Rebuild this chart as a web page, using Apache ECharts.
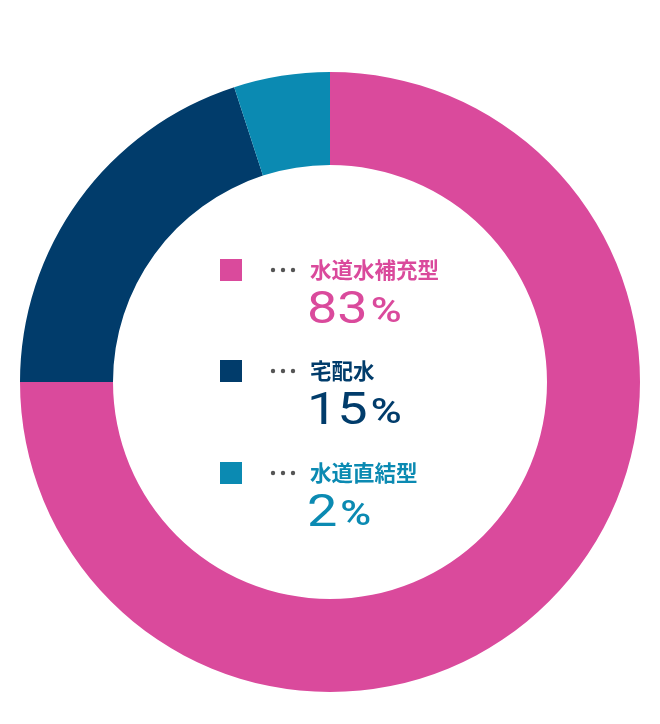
<!DOCTYPE html>
<html>
<head>
<meta charset="utf-8">
<script src="https://cdn.jsdelivr.net/npm/echarts@6/dist/echarts.min.js"></script>
<style>
html,body{margin:0;padding:0;background:#fff;}
#chart{width:660px;height:724px;}
</style>
</head>
<body>
<div id="chart"></div>
<script>
// Data (slice sizes as drawn in the picture; share labels as printed)
const categories = ['水道水補充型', '宅配水', '水道直結型'];
const sliceValues = [75, 20, 5];
const shareLabels = ['83', '15', '2'];
const colors = ['#DA4A9C', '#013C6B', '#0B8AB2'];

const chart = echarts.init(document.getElementById('chart'));

const itemTops = [259, 360, 462];
const graphics = [];
categories.forEach(function (name, i) {
  const top = itemTops[i];
  graphics.push({
    type: 'rect', shape: { x: 220, y: top, width: 22, height: 22 },
    style: { fill: colors[i] }
  });
  [273, 283, 293].forEach(function (cx) {
    graphics.push({ type: 'circle', shape: { cx: cx, cy: top + 11, r: 2.2 }, style: { fill: '#555' } });
  });
  graphics.push({
    type: 'text', x: 310, y: top + 11,
    style: {
      text: name, fill: colors[i],
      fontFamily: '"Noto Sans CJK JP", sans-serif', fontWeight: 'bold', fontSize: 21.5,
      verticalAlign: 'middle', align: 'left'
    }
  });
  graphics.push({
    type: 'text', x: 307, y: top + 75, scaleX: 1.2, originX: 0,
    style: {
      text: '{n|' + shareLabels[i] + '}{s| }{p|%}',
      align: 'left', verticalAlign: 'bottom',
      rich: {
        n: { fontFamily: 'Roboto, sans-serif', fontWeight: 400, fontSize: 45, fill: colors[i], verticalAlign: 'bottom' },
        s: { fontFamily: 'Roboto, sans-serif', fontSize: 10, verticalAlign: 'bottom' },
        p: { fontFamily: 'Roboto, sans-serif', fontWeight: 500, fontSize: 35, fill: colors[i], verticalAlign: 'bottom', padding: [0, 0, 3, 0] }
      }
    }
  });
});

chart.setOption({
  animation: false,
  series: [{
    type: 'pie',
    center: [330, 382],
    radius: [217, 310],
    startAngle: 90,
    clockwise: true,
    silent: true,
    label: { show: false },
    labelLine: { show: false },
    data: categories.map(function (c, i) {
      return { name: c, value: sliceValues[i], itemStyle: { color: colors[i] } };
    })
  }],
  graphic: graphics
});
</script>
</body>
</html>
